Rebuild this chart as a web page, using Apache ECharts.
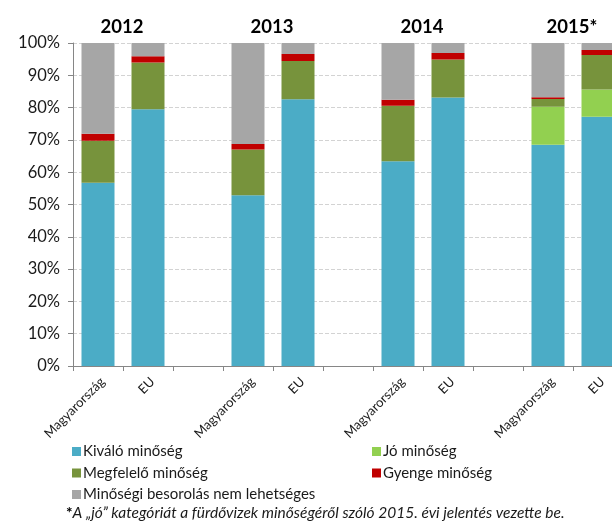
<!DOCTYPE html>
<html>
<head>
<meta charset="utf-8">
<script src="https://cdn.jsdelivr.net/npm/echarts@6/dist/echarts.min.js"></script>
<style>
  html, body { margin: 0; padding: 0; background: #fff; overflow: hidden; }
  /* the plot area continues a little past the visible right edge */
  #chart { width: 624px; height: 522px; }
</style>
</head>
<body>
<div id="chart"></div>
<script>
// Bathing-water quality classes, share of sites (%)
const categories = ['Magyarország', 'EU', '', 'Magyarország', 'EU', '', 'Magyarország', 'EU', '', 'Magyarország', 'EU'];
const years = ['2012', '2013', '2014', '2015*'];
const yearPairs = [[0, 1], [3, 4], [6, 7], [9, 10]];

const kivalo     = [56.7, 79.5, null, 52.9, 82.6, null, 63.4, 83.1, null, 68.5, 77.2];
const jo         = [null, null, null, null, null, null, null, null, null, 11.8, 8.4];
const megfelelo  = [13.0, 14.5, null, 14.1, 11.8, null, 17.2, 11.8, null, 2.4, 10.7];
const gyenge     = [2.2, 1.9, null, 1.7, 2.2, null, 1.8, 2.0, null, 0.5, 1.5];
const nemBesorol = [28.1, 4.1, null, 31.3, 3.4, null, 17.6, 3.1, null, 16.8, 2.2];

const yTicks = [0, 10, 20, 30, 40, 50, 60, 70, 80, 90, 100];

const seriesNames = ['Kiváló minőség', 'Jó minőség', 'Megfelelő minőség', 'Gyenge minőség', 'Minőségi besorolás nem lehetséges'];
const seriesData = [kivalo, jo, megfelelo, gyenge, nemBesorol];
const seriesColors = ['#4BACC6', '#92D050', '#77933C', '#C00000', '#A6A6A6'];

const FONT = 'Lato, "Open Sans", sans-serif';

const chart = echarts.init(document.getElementById('chart'), null, { renderer: 'canvas' });

const legendText = { fontSize: 15, color: '#1a1a1a', fontFamily: FONT, lineHeight: 14, padding: [0, 0, 0, -3] };

const option = {
  animation: false,
  backgroundColor: '#ffffff',
  textStyle: { fontFamily: FONT },
  grid: { left: 73, top: 43, bottom: 156, right: 1, containLabel: false },
  xAxis: {
    type: 'category',
    data: categories,
    boundaryGap: true,
    axisLine: { lineStyle: { color: '#868686', width: 1 } },
    axisTick: { show: true, length: 5, lineStyle: { color: '#868686' } },
    axisLabel: {
      rotate: 45,
      interval: 0,
      fontSize: 13,
      color: '#1a1a1a',
      fontFamily: FONT,
      margin: 9,
      verticalAlign: 'top'
    },
    splitLine: { show: false }
  },
  yAxis: {
    type: 'value',
    min: 0,
    max: 100,
    interval: 10,
    axisLine: { show: true, lineStyle: { color: '#868686', width: 1 } },
    axisTick: { show: true, length: 5, lineStyle: { color: '#868686' } },
    axisLabel: {
      formatter: function (v) { return yTicks.indexOf(v) >= 0 ? v + '%' : ''; },
      fontSize: 16.5,
      color: '#1a1a1a',
      fontFamily: FONT,
      margin: 13
    },
    splitLine: { show: true, lineStyle: { color: '#D3D3D3', type: [4, 2], width: 1 } }
  },
  legend: [
    {
      left: 72, top: 444, orient: 'vertical', padding: 0,
      itemWidth: 9, itemHeight: 9, itemGap: 6.5,
      icon: 'rect',
      data: [seriesNames[0], seriesNames[2], seriesNames[4]],
      textStyle: legendText,
      selectedMode: false
    },
    {
      left: 372, top: 444, orient: 'vertical', padding: 0,
      itemWidth: 9, itemHeight: 9, itemGap: 6.5,
      icon: 'rect',
      data: [seriesNames[1], seriesNames[3]],
      textStyle: legendText,
      selectedMode: false
    }
  ],
  series: seriesNames.map(function (name, i) {
    return {
      name: name,
      type: 'bar',
      stack: 'total',
      barWidth: '66%',
      data: seriesData[i],
      itemStyle: { color: seriesColors[i] },
      emphasis: { disabled: true }
    };
  })
};

chart.setOption(option);

// Year headings centred over each Magyarország / EU pair
const headings = years.map(function (y, i) {
  const p0 = chart.convertToPixel({ xAxisIndex: 0 }, yearPairs[i][0]);
  const p1 = chart.convertToPixel({ xAxisIndex: 0 }, yearPairs[i][1]);
  return {
    type: 'text',
    x: (p0 + p1) / 2 - 1,
    y: 27,
    style: {
      text: y,
      fill: '#000',
      font: 'bold 18.5px ' + FONT,
      textAlign: 'center',
      textVerticalAlign: 'middle'
    }
  };
});

headings.push({
  type: 'text',
  x: 66,
  y: 513,
  style: {
    text: '{b|*}{i|A „jó” kategóriát a fürdővizek minőségéről szóló 2015. évi jelentés vezette be.}',
    textVerticalAlign: 'middle',
    rich: {
      b: { font: 'bold 15.5px ' + FONT, fill: '#000' },
      i: { font: 'italic 15.5px ' + FONT, fill: '#1a1a1a' }
    }
  }
});

chart.setOption({ graphic: headings });
</script>
</body>
</html>
